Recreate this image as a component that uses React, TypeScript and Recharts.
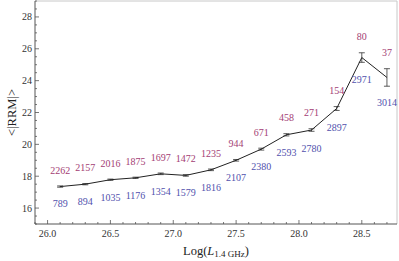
import React from "react";
import {
  ComposedChart,
  Line,
  XAxis,
  YAxis,
  ErrorBar,
  LabelList,
  ReferenceLine,
} from "recharts";

// log radio luminosity bins
const logL = [26.1, 26.3, 26.5, 26.7, 26.9, 27.1, 27.3, 27.5, 27.7, 27.9, 28.1, 28.3, 28.5, 28.7];
// mean |RRM| per bin, with errors
const meanRRM = [17.35, 17.5, 17.78, 17.9, 18.15, 18.05, 18.4, 19.0, 19.7, 20.6, 20.9, 22.25, 25.45, 24.2];
const rrmErr = [0.04, 0.04, 0.04, 0.04, 0.05, 0.05, 0.05, 0.05, 0.06, 0.07, 0.08, 0.12, 0.3, 0.55];
// source counts shown above / below the curve
const countAbove = [2262, 2157, 2016, 1875, 1697, 1472, 1235, 944, 671, 458, 271, 154, 80, 37];
const countBelow = [789, 894, 1035, 1176, 1354, 1579, 1816, 2107, 2380, 2593, 2780, 2897, 2971, 3014];

const xTicks = [26.0, 26.5, 27.0, 27.5, 28.0, 28.5];
const yTicks = [16, 18, 20, 22, 24, 26, 28];

const X_DOMAIN: [number, number] = [25.9, 28.78];
const Y_DOMAIN: [number, number] = [15, 29];

const FONT = "'Liberation Serif', 'DejaVu Serif', serif";
const TOP_COLOR = "#a33d74";
const BOTTOM_COLOR = "#5151ad";
const AXIS_COLOR = "#555";

// minor ticks every 0.1 on x, every 0.5 on y
const xAllTicks: number[] = [];
for (let i = 259; i <= 287; i++) xAllTicks.push(i / 10);
const yAllTicks: number[] = [];
for (let i = 30; i <= 58; i++) yAllTicks.push(i / 2);

const data = logL.map((x, i) => ({
  x,
  rrm: meanRRM[i],
  err: rrmErr[i],
  topY: meanRRM[i] + 1.0 + rrmErr[i],
  botY: meanRRM[i] - 1.05 - rrmErr[i],
  nTop: countAbove[i],
  nBot: countBelow[i],
}));

const isMajor = (v: number, majors: number[]) =>
  majors.some((m) => Math.abs(m - v) < 1e-6);

const XTick = ({ x, y, payload }: any) => {
  const major = isMajor(payload.value, xTicks);
  return (
    <g>
      <line x1={x} x2={x} y1={y} y2={y - (major ? 4 : 2)} stroke={AXIS_COLOR} strokeWidth={0.8} />
      {major && (
        <text x={x} y={y + 9} textAnchor="middle" dominantBaseline="central" fontSize={10} fill="#333" fontFamily={FONT}>
          {payload.value.toFixed(1)}
        </text>
      )}
    </g>
  );
};

const YTick = ({ x, y, payload }: any) => {
  const major = isMajor(payload.value, yTicks);
  return (
    <g>
      <line x1={x} x2={x + (major ? 4 : 2)} y1={y} y2={y} stroke={AXIS_COLOR} strokeWidth={0.8} />
      {major && (
        <text x={x - 3} y={y} textAnchor="end" dominantBaseline="central" fontSize={10} fill="#333" fontFamily={FONT}>
          {payload.value}
        </text>
      )}
    </g>
  );
};

const countLabel = (color: string) => (props: any) => {
  const { x, y, value } = props;
  return (
    <text x={x} y={y} textAnchor="middle" dominantBaseline="central" fontSize={10} fill={color} fontFamily={FONT}>
      {value}
    </text>
  );
};

const XLabel = ({ viewBox }: any) => {
  const cx = viewBox.x + viewBox.width / 2;
  return (
    <text x={cx} y={viewBox.y + 27} textAnchor="middle" dominantBaseline="central" fontSize={12.5} fill="#222" fontFamily={FONT}>
      Log(<tspan fontStyle="italic">L</tspan>
      <tspan fontSize={9} dy={3}>1.4 GHz</tspan>
      <tspan dy={-3}>)</tspan>
    </text>
  );
};

const YLabel = ({ viewBox }: any) => {
  const cy = viewBox.y + viewBox.height / 2;
  const cx = 12;
  return (
    <text
      x={cx}
      y={cy}
      transform={`rotate(-90 ${cx} ${cy})`}
      textAnchor="middle"
      dominantBaseline="central"
      fontSize={12.5}
      fill="#222"
      fontFamily={FONT}
    >
      {"<|RRM|>"}
    </text>
  );
};

export default function App() {
  return (
    <div style={{ position: "absolute", left: 0, top: 0, background: "#fff" }}>
      <ComposedChart width={399} height={261} data={data} margin={{ top: 1, right: 2, bottom: 0, left: 0 }}>
        <XAxis
          type="number"
          dataKey="x"
          domain={X_DOMAIN}
          ticks={xAllTicks}
          interval={0}
          tick={<XTick />}
          tickLine={false}
          tickSize={0}
          tickMargin={0}
          height={37}
          axisLine={{ stroke: AXIS_COLOR }}
          allowDataOverflow
          label={<XLabel />}
        />
        <YAxis
          type="number"
          domain={Y_DOMAIN}
          ticks={yAllTicks}
          interval={0}
          tick={<YTick />}
          tickLine={false}
          tickSize={0}
          tickMargin={0}
          width={35}
          axisLine={{ stroke: AXIS_COLOR }}
          allowDataOverflow
          label={<YLabel />}
        />
        <ReferenceLine y={29} stroke="#c8c8c8" />
        <ReferenceLine x={28.78} stroke="#c8c8c8" />
        <Line
          dataKey="rrm"
          stroke="#222"
          strokeWidth={1}
          dot={false}
          isAnimationActive={false}
        >
          <ErrorBar dataKey="err" width={3} stroke="#333" strokeWidth={0.8} direction="y" isAnimationActive={false} />
        </Line>
        <Line dataKey="topY" stroke="none" dot={false} activeDot={false} isAnimationActive={false}>
          <LabelList dataKey="nTop" content={countLabel(TOP_COLOR)} />
        </Line>
        <Line dataKey="botY" stroke="none" dot={false} activeDot={false} isAnimationActive={false}>
          <LabelList dataKey="nBot" content={countLabel(BOTTOM_COLOR)} />
        </Line>
      </ComposedChart>
    </div>
  );
}
